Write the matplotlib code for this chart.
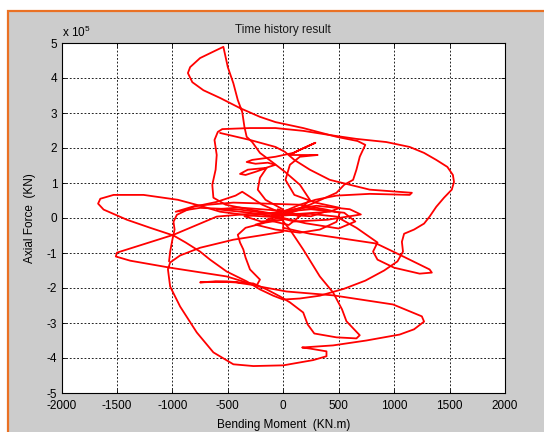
import matplotlib
matplotlib.use("Agg")
import matplotlib.pyplot as plt
from matplotlib.patches import Rectangle
import numpy as np

plt.rcParams['font.family'] = ['Liberation Sans', 'DejaVu Sans']
plt.rcParams['axes.unicode_minus'] = False
plt.rcParams['mathtext.default'] = 'regular'

# Bending moment (KN.m) and axial force (x 1e5 KN) for each traced stroke of the trajectory
top_loop_x = [15, 240, 480, 550, 630, 660, 690, 740, 670, 480, 180, -70, -210, -390, -570, -720, -820, -860,
              -840, -750, -600, -540, -500, -450, -410, -370, -350, -330, -280, -210, -100, 15, 150, 240, 150, 15]
top_loop_y = [0.15, 0.38, 0.72, 0.95, 1.09, 1.38, 1.75, 2.09, 2.20, 2.32, 2.57, 2.74, 2.89, 3.14, 3.43, 3.65, 3.88, 4.14,
              4.31, 4.57, 4.80, 4.89, 4.31, 3.85, 3.37, 3.03, 2.60, 2.32, 2.17, 1.86, 1.60, 1.32, 0.95, 0.52, 0.24, 0.09]

big_loop_x = [0, -300, -520, -630, -640, -610, -600, -620, -590, -550, -300, -70, 180, 420, 660, 930, 1140, 1270,
              1380, 1480, 1530, 1540, 1520, 1450, 1380, 1320, 1270, 1180, 1090, 1070, 1080, 1030, 910, 740, 550,
              330, 150, 0, -90, -210, -330, -510, -660, -750, -880, -990, -1200, -1410, -1620, -1670, -1650,
              -1530, -1260, -950, -750, -570, -300, 0]
big_loop_y = [0.07, 0.24, 0.38, 0.58, 0.95, 1.38, 1.80, 2.23, 2.46, 2.54, 2.57, 2.57, 2.49, 2.37, 2.26, 2.17, 2.03, 1.86,
              1.66, 1.46, 1.23, 1.03, 0.81, 0.58, 0.32, 0.04, -0.16, -0.33, -0.45, -0.68, -0.96, -1.24, -1.50, -1.79, -2.02,
              -2.22, -2.30, -2.33, -2.22, -2.04, -1.81, -1.53, -1.19, -0.96, -0.70, -0.50, -0.28, -0.05, 0.24, 0.41, 0.55,
              0.66, 0.66, 0.52, 0.35, 0.18, 0.07, 0.01]

bottom_loop_x = [0, 0, -210, -450, -750, -930, -1020, -1040, -1020, -930, -780, -630, -450, -270, 0, 270, 390, 390,
                 240, 170, 450, 750, 1050, 1180, 1270, 1250, 990, 450, 30, -210, -510, -1020, -1380, -1510, -1500,
                 -1410, -990, -600, -300, 0]
bottom_loop_y = [-0.05, -0.39, -0.50, -0.62, -0.85, -1.07, -1.27, -1.47, -1.96, -2.53, -3.27, -3.84, -4.18, -4.23, -4.21,
                 -4.06, -3.95, -3.81, -3.73, -3.70, -3.64, -3.50, -3.33, -3.18, -2.96, -2.81, -2.47, -2.21, -2.10, -1.96,
                 -1.67, -1.42, -1.22, -1.10, -0.99, -0.90, -0.48, 0.04, 0.12, 0.12]

spike_down_x = [0, 60, 180, 330, 450, 530, 570, 690, 660, 480, 280, 220, 180, 60, -30, -150, -270, -510, -750, -610,
                -430, -240, -210, -300, -340, -360, -390, -410, -340, -160, 0]
spike_down_y = [-0.10, -0.33, -0.90, -1.67, -2.13, -2.61, -2.95, -3.35, -3.44, -3.41, -3.30, -3.04, -2.70, -2.41, -2.24,
                -2.04, -1.87, -1.81, -1.84, -1.81, -1.84, -1.93, -1.76, -1.47, -1.13, -0.90, -0.70, -0.48, -0.28, -0.13, -0.05]

right_tip_x = [0, 240, 480, 840, 1050, 1320, 1340, 1230, 1000, 850, 810, 850, 660, 480, 240, 0]
right_tip_y = [-0.28, -0.45, -0.56, -0.73, -1.05, -1.47, -1.56, -1.59, -1.42, -1.19, -0.96, -0.70, -0.28, 0.04, 0.12, 0.07]

squiggle_x = [0, -160, -230, -210, -150, -250, -340, -390, -320, -160, -70, -140, -250, -330, -280, -70, 90, 290, 150,
              60, 310, 150, 60, 20, 100, 290, 510, 420, 150, 0]
squiggle_y = [0.24, 0.52, 0.81, 1.15, 1.43, 1.32, 1.23, 1.26, 1.38, 1.43, 1.52, 1.58, 1.55, 1.60, 1.66, 1.75, 1.86, 2.15,
              1.95, 1.80, 1.80, 1.75, 1.52, 1.09, 0.66, 0.44, 0.29, 0.18, 0.12, 0.12]

mid_tip_x = [-570, -300, -70, 15, 100, 240, 420, 780, 1160, 1140, 780, 480, 290, 150, 0]
mid_tip_y = [2.43, 2.23, 2.03, 1.89, 1.66, 1.38, 1.09, 0.81, 0.72, 0.66, 0.69, 0.64, 0.52, 0.38, 0.18]

core_x = [0, -390, -750, -970, -790, -450, -150, 150, 390, 510, 480, 330, 150, -70, -250, 0]
core_y = [0.07, 0.24, 0.29, 0.18, 0.35, 0.44, 0.41, 0.38, 0.24, 0.15, -0.11, -0.33, -0.42, -0.33, -0.19, 0.04]

left_arc_x = [0, -190, -370, -430, -600, -810, -960, -990, -980, -1000, -1020, -1030]
left_arc_y = [0.12, 0.38, 0.75, 0.64, 0.46, 0.32, 0.09, -0.11, -0.33, -0.62, -0.96, -1.24]

knot_a_x = [0, -300, -600, -400, 0, 300, 600, 700, 400, 100, -100, 50]
knot_a_y = [0.00, 0.15, 0.25, 0.30, 0.20, 0.35, 0.25, 0.10, -0.05, -0.10, 0.05, 0.10]

knot_b_x = [0, 200, 500, 650, 550, 250, -100, -350, -200, 0]
knot_b_y = [0.00, -0.15, -0.30, -0.10, 0.15, 0.25, 0.15, 0.05, -0.10, -0.05]

knot_c_x = [0, -150, 50, 150, -50, 0, 250, 400, 200, 0]
knot_c_y = [0.10, -0.05, -0.20, 0.05, 0.25, 0.10, 0.05, 0.20, 0.30, 0.18]

strokes = [(top_loop_x, top_loop_y), (big_loop_x, big_loop_y), (bottom_loop_x, bottom_loop_y),
           (spike_down_x, spike_down_y), (right_tip_x, right_tip_y), (squiggle_x, squiggle_y),
           (mid_tip_x, mid_tip_y), (core_x, core_y), (left_arc_x, left_arc_y),
           (knot_a_x, knot_a_y), (knot_b_x, knot_b_y), (knot_c_x, knot_c_y)]

x_ticks = [-2000, -1500, -1000, -500, 0, 500, 1000, 1500, 2000]
y_ticks = [-5, -4, -3, -2, -1, 0, 1, 2, 3, 4, 5]

W, H = 544, 432
fig = plt.figure(figsize=(W / 100, H / 100), dpi=100, facecolor='white')

# MATLAB-like grey figure panel with orange frame
panel = Rectangle((8.3 / W, -0.1), 1.2, (H - 11.2) / H + 0.1, transform=fig.transFigure,
                  facecolor='#cccccc', edgecolor='#ea7124', linewidth=1.6, zorder=-10)
fig.patches.append(panel)

ax = fig.add_axes([61.5 / W, 1 - 393 / H, (505 - 61.5) / W, (393 - 43) / H])
ax.set_zorder(5)
ax.set_facecolor('white')
for xs, ys in strokes:
    ax.plot(xs, ys, color='#ff0000', linewidth=1.3, solid_joinstyle='round', solid_capstyle='round', zorder=3)

ax.set_xlim(-2000, 2000)
ax.set_ylim(-5, 5)
ax.set_xticks(x_ticks)
ax.set_yticks(y_ticks)
ax.set_xticklabels([str(v) for v in x_ticks])
ax.set_yticklabels([str(v) for v in y_ticks])
ax.grid(True, color='black', linestyle=(0, (2.2, 2.2)), linewidth=0.6, zorder=1)
ax.tick_params(direction='in', length=3, width=0.6, top=True, right=True, labelsize=8.5, pad=3, colors='black')
ax.tick_params(axis='x', pad=5)
for s in ax.spines.values():
    s.set_linewidth(0.8)
    s.set_color('black')

ax.set_title('Time history result', fontsize=8.5, pad=7, color='#1a1a1a')
ax.set_xlabel('Bending Moment  (KN.m)', fontsize=8.5, labelpad=5)
ax.set_ylabel('Axial Force  (KN)', fontsize=8.5, labelpad=8)
fig.text(61.5 / W, 1 - 37 / H, r'x 10$^{5}$', fontsize=8.5, ha='left', va='baseline', zorder=6)

fig.savefig('out.png', dpi=100, facecolor=fig.get_facecolor())
